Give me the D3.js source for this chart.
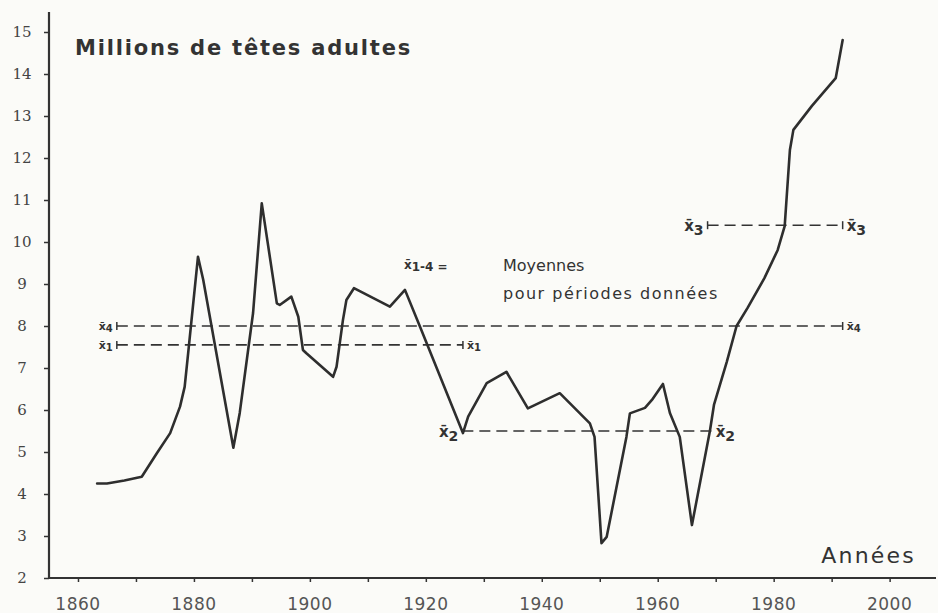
<!DOCTYPE html>
<html>
<head>
<meta charset="utf-8">
<script src="https://cdn.jsdelivr.net/npm/d3@7"></script>
<style>
  body { margin: 0; background: #fbfbf8; }
  svg { display: block; }
  text { fill: #333; }
</style>
</head>
<body>
<div id="chart"></div>
<script>
// Herd size, millions of adult head
const years = [1863.3, 1865, 1868, 1871.0, 1873.6, 1875.9, 1877.6, 1878.4, 1879.0, 1880.7, 1881.6,
  1886.8, 1887.9, 1890.2, 1891.7, 1894.3, 1894.8, 1896.8, 1898.0, 1898.8, 1899.4, 1904.0,
  1904.6, 1905.7, 1906.3, 1907.6, 1913.8, 1916.4, 1919.0, 1926.4, 1927.3, 1930.5, 1933.9,
  1937.6, 1943.1, 1948.3, 1949.1, 1950.3, 1951.2, 1954.6, 1955.2, 1957.8, 1959.0, 1960.9,
  1962.1, 1963.8, 1965.9, 1969.0, 1969.7, 1971.9, 1973.6, 1975.5, 1978.4, 1980.7, 1981.9,
  1982.8, 1983.4, 1986.6, 1989.7, 1990.7, 1991.9];
const values = [4.25, 4.25, 4.32, 4.41, 4.97, 5.45, 6.08, 6.55, 7.35, 9.65, 9.1,
  5.1, 5.93, 8.31, 10.92, 8.54, 8.5, 8.7, 8.22, 7.43, 7.35, 6.79,
  7.03, 8.14, 8.62, 8.9, 8.46, 8.86, 7.98, 5.45, 5.84, 6.64, 6.91,
  6.04, 6.4, 5.68, 5.36, 2.83, 2.98, 5.36, 5.92, 6.05, 6.24, 6.62,
  5.93, 5.36, 3.26, 5.5, 6.12, 7.14, 8.0, 8.43, 9.14, 9.81, 10.38,
  12.19, 12.67, 13.24, 13.74, 13.9, 14.81];

// period means
const meanNames = ['1', '2', '3', '4'];
const meanValues = [7.55, 5.5, 10.4, 8.0];
const meanFrom = [1866.7, 1926.3, 1968.6, 1866.7];
const meanTo = [1926.4, 1969.3, 1991.9, 1991.9];

const yTicks = d3.range(2, 16);
const xTicks = d3.range(1860, 2001, 10);
const xLabels = [1860, 1880, 1900, 1920, 1940, 1960, 1980, 2000];

const width = 938, height = 613;

const svg = d3.select('#chart').append('svg')
    .attr('width', width)
    .attr('height', height);

const x = d3.scaleLinear().domain([1855, 2008]).range([49, 936]);
const y = d3.scaleLinear().domain([2, 15]).range([578, 32]);

const ink = '#333';

// axes
const gx = svg.append('g')
    .attr('transform', `translate(0,${y(2)})`)
    .call(d3.axisBottom(x).tickValues(xTicks).tickSize(4).tickFormat(''));
gx.select('.domain').attr('stroke', ink).attr('stroke-width', 2.2)
    .attr('d', `M${x(1855) - 1},0H${x(2008)}`);
gx.selectAll('.tick line').attr('stroke', ink).attr('stroke-width', 1.5);

svg.append('g').selectAll('text')
    .data(xLabels)
    .join('text')
    .attr('x', d => x(d))
    .attr('y', 610)
    .attr('text-anchor', 'middle')
    .style('font-family', 'DejaVu Sans, sans-serif')
    .style('font-size', '17px')
    .style('letter-spacing', '0.5px')
    .style('fill', '#555')
    .text(d => d);

const gy = svg.append('g')
    .attr('transform', `translate(${x(1855)},0)`)
    .call(d3.axisLeft(y).tickValues(yTicks).tickSize(5).tickFormat(''));
gy.select('.domain').attr('stroke', ink).attr('stroke-width', 2.2)
    .attr('d', `M0,12V${y(2)}`);
gy.selectAll('.tick line').attr('stroke', ink).attr('stroke-width', 1.5);

svg.append('g').selectAll('text')
    .data(yTicks)
    .join('text')
    .attr('x', 22)
    .attr('y', d => y(d) + 5)
    .attr('text-anchor', 'middle')
    .style('font-family', 'DejaVu Serif, serif')
    .style('font-size', '15px')
    .style('fill', '#444')
    .text(d => d);

// mean lines
const means = meanNames.map((n, i) => ({ n, v: meanValues[i], a: meanFrom[i], b: meanTo[i] }));

const gm = svg.append('g');
means.forEach(m => {
    const yy = y(m.v);
    gm.append('line')
        .attr('x1', x(m.a)).attr('x2', x(m.b))
        .attr('y1', yy).attr('y2', yy)
        .attr('stroke', ink).attr('stroke-width', 1.6)
        .attr('stroke-dasharray', '11,6');
    if (m.n !== '2') {
        [m.a, m.b].forEach(t => {
            gm.append('line')
                .attr('x1', x(t)).attr('x2', x(t))
                .attr('y1', yy - 4).attr('y2', yy + 4)
                .attr('stroke', ink).attr('stroke-width', 1.5);
        });
    }
    const big = m.n === '2' || m.n === '3';
    const fs = big ? 15 : 11;
    [[x(m.a) - 4, 'end'], [x(m.b) + 4, 'start']].forEach(([px, anchor]) => {
        const t = gm.append('text')
            .attr('x', px)
            .attr('y', yy + (big ? 6 : 4))
            .attr('text-anchor', anchor)
            .style('font-family', 'DejaVu Sans, sans-serif')
            .style('font-size', fs + 'px')
            .style('font-weight', 'bold');
        t.append('tspan').text('x\u0304');
        t.append('tspan').attr('dy', big ? 4 : 2).style('font-size', (fs - 1) + 'px').text(m.n);
    });
});

// the series
const line = d3.line()
    .x((d, i) => x(years[i]))
    .y(d => y(d));

svg.append('path')
    .datum(values)
    .attr('fill', 'none')
    .attr('stroke', '#2e2e2e')
    .attr('stroke-width', 2.6)
    .attr('stroke-linejoin', 'round')
    .attr('stroke-linecap', 'round')
    .attr('d', line);

// titles and note
svg.append('text')
    .attr('x', 75).attr('y', 55)
    .style('font-family', 'DejaVu Sans, sans-serif')
    .style('font-size', '21px')
    .style('font-weight', 'bold')
    .style('letter-spacing', '1.8px')
    .text('Millions de têtes adultes');

svg.append('text')
    .attr('x', 916).attr('y', 563)
    .attr('text-anchor', 'end')
    .style('font-family', 'DejaVu Sans, sans-serif')
    .style('font-size', '22px')
    .style('letter-spacing', '2.2px')
    .text('Années');

const note = svg.append('text')
    .attr('x', 404).attr('y', 269)
    .style('font-family', 'DejaVu Sans, sans-serif')
    .style('font-size', '12px')
    .style('font-weight', 'bold');
note.append('tspan').text('x\u0304');
note.append('tspan').attr('dy', 2).text('1-4 =');

svg.append('g')
    .style('font-family', 'DejaVu Sans, sans-serif')
    .style('font-size', '16px')
    .selectAll('text')
    .data(['Moyennes', 'pour périodes données'])
    .join('text')
    .attr('x', 503)
    .attr('y', (d, i) => 271 + i * 28)
    .style('letter-spacing', (d, i) => i ? '1.5px' : '0px')
    .text(d => d);
</script>
</body>
</html>
